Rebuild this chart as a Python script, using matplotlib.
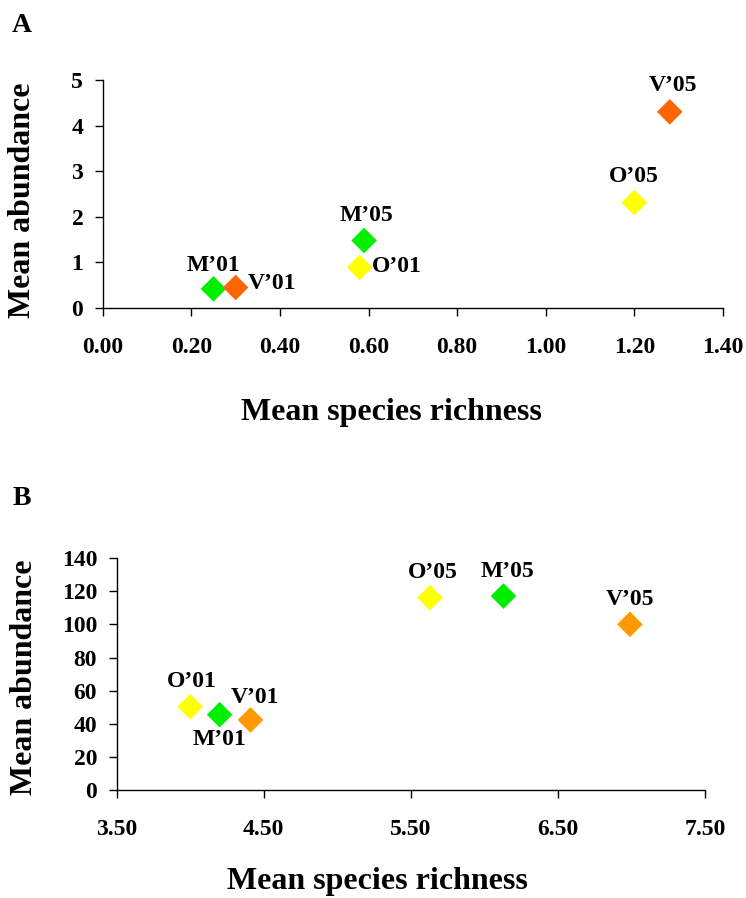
import matplotlib
matplotlib.use("Agg")
import matplotlib.pyplot as plt
from matplotlib.ticker import FormatStrFormatter

plt.rcParams["font.family"] = ["Liberation Serif", "DejaVu Serif"]
plt.rcParams["font.weight"] = "bold"

# Panel A
a_labels = ["M\u201901", "V\u201901", "M\u201905", "O\u201901", "O\u201905", "V\u201905"]
a_richness = [0.25, 0.30, 0.59, 0.58, 1.20, 1.28]
a_abundance = [0.42, 0.45, 1.48, 0.89, 2.31, 4.30]
a_colors = ["#00ee00", "#ff6600", "#00ee00", "#ffff00", "#ffff00", "#ff6600"]

# Panel B
b_labels = ["O\u201901", "M\u201901", "V\u201901", "O\u201905", "M\u201905", "V\u201905"]
b_richness = [4.00, 4.20, 4.41, 5.63, 6.13, 6.99]
b_abundance = [50.3, 45.5, 42.3, 116.2, 117.2, 100.1]
b_colors = ["#ffff00", "#00ee00", "#ff9900", "#ffff00", "#00ee00", "#ff9900"]

# label offsets (points) and alignment for each point
a_offsets = [(0, 17, "center"), (9, 3, "left"), (2, 18, "center"),
             (9, 1, "left"), (0, 19, "center"), (2, 19, "center")]
b_offsets = [(1, 18, "center"), (0, -18, "center"), (3, 16, "center"),
             (2, 18, "center"), (3, 18, "center"), (0, 18, "center")]

fig = plt.figure(figsize=(7.46, 8.98), dpi=100)
axA = fig.add_axes([0.1377, 0.657, 0.8313, 0.254])
axB = fig.add_axes([0.1564, 0.1203, 0.7886, 0.2580])


def style(ax):
    ax.spines["top"].set_visible(False)
    ax.spines["right"].set_visible(False)
    for s in ["left", "bottom"]:
        ax.spines[s].set_linewidth(1.0)
    ax.tick_params(axis="both", direction="out", length=6, width=1.0,
                   labelsize=17)
    ax.tick_params(axis="x", pad=15)
    ax.tick_params(axis="y", pad=8)
    for lab in ax.get_xticklabels() + ax.get_yticklabels():
        lab.set_fontweight("bold")


def draw(ax, xs, ys, cols, labs, offs):
    ax.scatter(xs, ys, s=170, marker="D", c=cols, edgecolors="none",
               clip_on=False, zorder=3)
    for x, y, t, (dx, dy, ha) in zip(xs, ys, labs, offs):
        ax.annotate(t, (x, y), xytext=(dx, dy), textcoords="offset points",
                    ha=ha, va="center", fontsize=17, fontweight="bold")


draw(axA, a_richness, a_abundance, a_colors, a_labels, a_offsets)
axA.set_xlim(0, 1.4)
axA.set_ylim(0, 5)
axA.set_xticks([0.0, 0.2, 0.4, 0.6, 0.8, 1.0, 1.2, 1.4])
axA.set_yticks([0, 1, 2, 3, 4, 5])
axA.xaxis.set_major_formatter(FormatStrFormatter("%.2f"))
style(axA)
axA.set_xlabel("Mean species richness", fontsize=23, fontweight="bold", va="center")
axA.xaxis.set_label_coords(0.465, -0.46)
axA.set_ylabel("Mean abundance", fontsize=23, fontweight="bold", va="center")
axA.yaxis.set_label_coords(-0.130, 0.474)

draw(axB, b_richness, b_abundance, b_colors, b_labels, b_offsets)
axB.set_xlim(3.5, 7.5)
axB.set_ylim(0, 140)
axB.set_xticks([3.5, 4.5, 5.5, 6.5, 7.5])
axB.set_yticks(range(0, 141, 20))
axB.xaxis.set_major_formatter(FormatStrFormatter("%.2f"))
style(axB)
axB.set_xlabel("Mean species richness", fontsize=23, fontweight="bold", va="center")
axB.xaxis.set_label_coords(0.444, -0.393)
axB.set_ylabel("Mean abundance", fontsize=23, fontweight="bold", va="center")
axB.yaxis.set_label_coords(-0.156, 0.488)

fig.text(12 / 746, 1 - 32 / 898, "A", fontsize=20, fontweight="bold", va="baseline")
fig.text(13 / 746, 1 - 505 / 898, "B", fontsize=20, fontweight="bold", va="baseline")

fig.savefig("out.png", dpi=100)
